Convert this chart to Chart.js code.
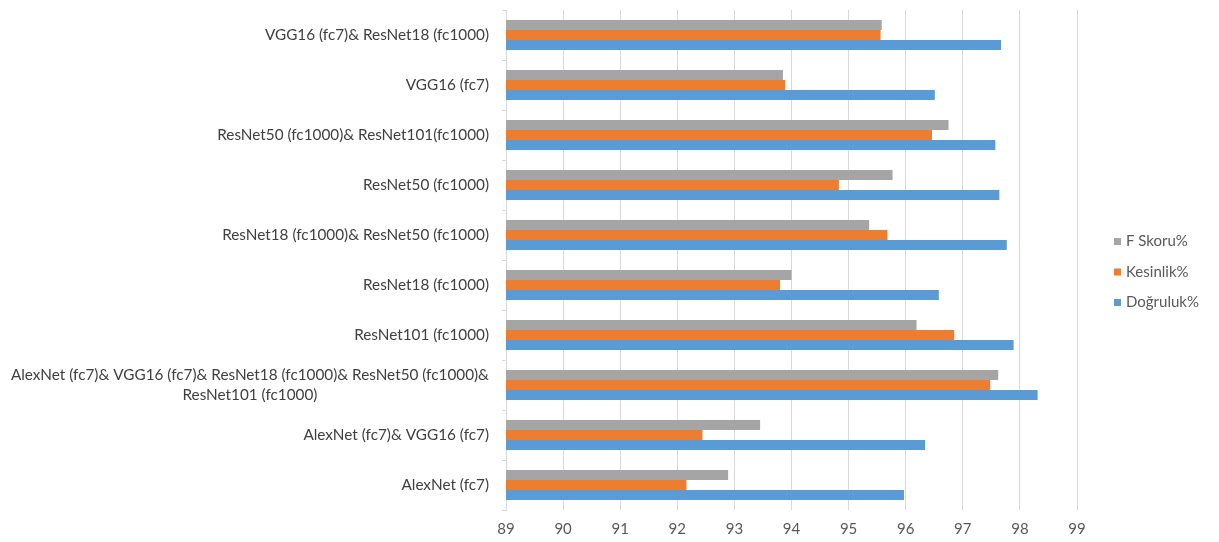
<!DOCTYPE html>
<html>
<head>
<meta charset="utf-8">
<script src="https://cdn.jsdelivr.net/npm/chart.js@4/dist/chart.umd.min.js"></script>
<style>
  html, body { margin: 0; padding: 0; background: #ffffff; }
  #wrap { width: 1219px; height: 542px; position: relative; }
</style>
</head>
<body>
<div id="wrap"><canvas id="c" width="1219" height="542"></canvas></div>
<script>
// Model combinations, listed top to bottom (multi-line names as arrays of lines)
const categories = [
  ['VGG16 (fc7)& ResNet18 (fc1000)'],
  ['VGG16 (fc7)'],
  ['ResNet50 (fc1000)& ResNet101(fc1000)'],
  ['ResNet50 (fc1000)'],
  ['ResNet18 (fc1000)& ResNet50 (fc1000)'],
  ['ResNet18 (fc1000)'],
  ['ResNet101 (fc1000)'],
  ['AlexNet (fc7)& VGG16 (fc7)& ResNet18 (fc1000)& ResNet50 (fc1000)&', 'ResNet101 (fc1000)'],
  ['AlexNet (fc7)& VGG16 (fc7)'],
  ['AlexNet (fc7)']
];

const fSkoru    = [95.58, 93.85, 96.75, 95.77, 95.36, 94.00, 96.19, 97.62, 93.45, 92.89];
const kesinlik  = [95.56, 93.89, 96.46, 94.83, 95.68, 93.80, 96.85, 97.48, 92.44, 92.16];
const dogruluk  = [97.67, 96.51, 97.57, 97.64, 97.77, 96.58, 97.89, 98.31, 96.34, 95.97];

const seriesNames = ['F Skoru%', 'Kesinlik%', 'Doğruluk%'];
const xTicks = [89, 90, 91, 92, 93, 94, 95, 96, 97, 98, 99];

const FONT = 'Lato, "Open Sans", sans-serif';

// Category names drawn to the left of the plot, right-aligned as a block,
// with wrapped lines centred on each other
const categoryLabels = {
  id: 'categoryLabels',
  afterDraw(chart) {
    const ctx = chart.ctx;
    const y = chart.scales.y;
    const right = chart.chartArea.left - 17;
    const lineH = 20;
    ctx.save();
    ctx.font = '15.3px ' + FONT;
    ctx.fillStyle = '#404040';
    ctx.textBaseline = 'middle';
    ctx.textAlign = 'center';
    categories.forEach((lines, i) => {
      const cy = y.getPixelForValue(i);
      const w = Math.max(...lines.map(l => ctx.measureText(l).width));
      const cx = right - w / 2;
      const y0 = cy - (lines.length - 1) * lineH / 2;
      lines.forEach((l, k) => ctx.fillText(l, cx, y0 + k * lineH));
    });
    ctx.restore();
  }
};

// Legend on the right: small square swatches followed by series names
const sideLegend = {
  id: 'sideLegend',
  afterDraw(chart) {
    const ctx = chart.ctx;
    const sets = chart.data.datasets;
    const x0 = 1114, gap = 30.5, sq = 7;
    const yMid = 272;
    ctx.save();
    ctx.font = '15px ' + FONT;
    ctx.textBaseline = 'middle';
    ctx.textAlign = 'left';
    sets.forEach((ds, i) => {
      const cy = yMid + (i - (sets.length - 1) / 2) * gap;
      ctx.fillStyle = ds.backgroundColor;
      ctx.fillRect(x0, cy - sq / 2, sq, sq);
      ctx.fillStyle = '#595959';
      ctx.fillText(ds.label, x0 + 12, cy);
    });
    ctx.restore();
  }
};

new Chart(document.getElementById('c'), {
  type: 'bar',
  data: {
    labels: categories.map(l => l.join(' ')),
    datasets: [
      { label: seriesNames[0], data: fSkoru,   backgroundColor: '#A5A5A5' },
      { label: seriesNames[1], data: kesinlik, backgroundColor: '#ED7D31' },
      { label: seriesNames[2], data: dogruluk, backgroundColor: '#5B9BD5' }
    ]
  },
  options: {
    indexAxis: 'y',
    responsive: false,
    animation: false,
    devicePixelRatio: 1,
    layout: { padding: { top: 10, right: 142, bottom: 0, left: 0 } },
    datasets: { bar: { categoryPercentage: 0.6, barPercentage: 1.0, borderWidth: 0 } },
    plugins: {
      legend: { display: false },
      tooltip: { enabled: false }
    },
    scales: {
      x: {
        type: 'linear',
        min: xTicks[0],
        max: xTicks[xTicks.length - 1],
        afterBuildTicks(s) { s.ticks = xTicks.map(v => ({ value: v })); },
        afterFit(s) { s.height = 32; },
        grid: { color: '#d9d9d9', drawTicks: false, lineWidth: 1 },
        border: { display: false },
        ticks: { padding: 10, color: '#595959', font: { family: FONT, size: 15 } }
      },
      y: {
        type: 'category',
        afterFit(s) { s.width = 506; },
        grid: { display: true, drawOnChartArea: false, drawTicks: true, tickLength: 4, color: '#d9d9d9', offset: true },
        border: { display: true, color: '#d9d9d9' },
        ticks: { display: false }
      }
    }
  },
  plugins: [categoryLabels, sideLegend]
});
</script>
</body>
</html>
